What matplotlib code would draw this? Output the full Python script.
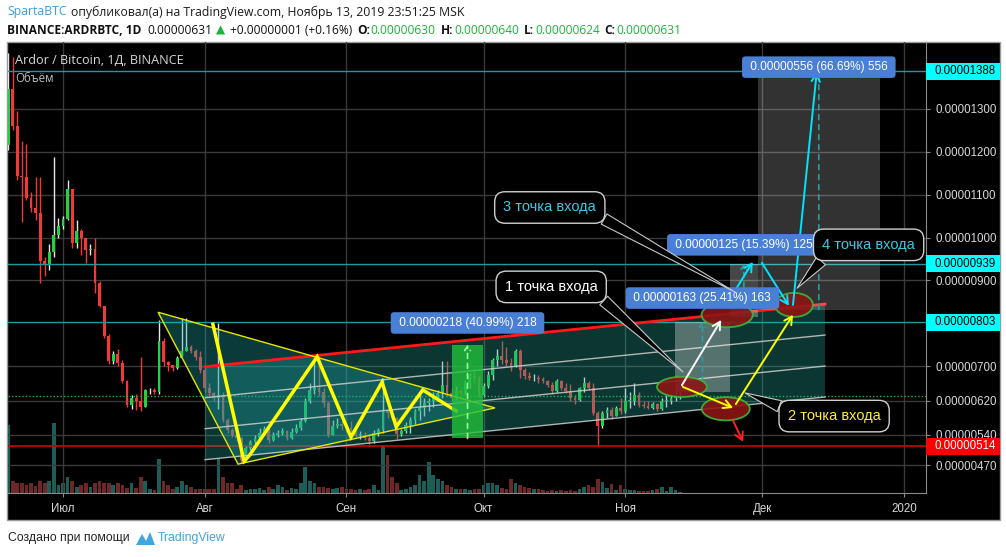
import matplotlib
matplotlib.use('Agg')
import matplotlib.pyplot as plt
from matplotlib.patches import Rectangle, Ellipse, Polygon

W, H = 1006, 557

# ARDR/BTC daily candles, prices in satoshi (1e-8 BTC); day 0 = 2019-06-19
first_open = 1215
closes = [1345, 1260, 1144, 1140, 1093, 1068, 1058, 946, 935, 967,
          1005, 1026, 1044, 1114, 988, 1016, 998, 972, 974, 895,
          840, 770, 712, 728, 707, 665, 609, 626, 620, 605,
          644, 644, 640, 758, 709, 702, 696, 719, 735, 744,
          735, 721, 691, 649, 637, 626, 633, 575, 551, 540,
          533, 482, 510, 523, 533, 544, 555, 528, 540, 545,
          549, 532, 548, 556, 572, 619, 644, 649, 640, 614,
          540, 561, 565, 561, 556, 551, 540, 540, 533, 526,
          545, 551, 595, 591, 579, 542, 549, 563, 575, 595,
          602, 614, 619, 626, 637, 656, 637, 626, 642, 637,
          661, 677, 672, 633, 654, 679, 714, 723, 714, 707,
          700, 735, 691, 677, 672, 672, 670, 665, 656, 642,
          665, 649, 642, 626, 621, 649, 661, 649, 591, 561,
          591, 598, 584, 602, 595, 619, 619, 633, 609, 607,
          603, 612, 600, 619, 620, 625, 630, 631]
highs = [1430, 1420, 1295, 1226, 1219, 1105, 1142, 1142, 955, 985,
         1188, 1045, 1050, 1133, 1112, 1040, 1020, 1000, 985, 1000,
         898, 840, 775, 735, 740, 715, 668, 632, 636, 721,
         646, 650, 650, 807, 765, 712, 702, 725, 812, 812,
         750, 740, 735, 700, 662, 640, 800, 640, 580, 556,
         546, 535, 515, 528, 540, 556, 562, 556, 548, 552,
         556, 552, 556, 565, 580, 625, 660, 719, 723, 650,
         618, 575, 580, 572, 568, 572, 558, 550, 548, 542,
         552, 556, 672, 600, 590, 582, 553, 570, 582, 600,
         640, 625, 625, 640, 645, 712, 712, 650, 655, 648,
         668, 685, 690, 678, 660, 690, 720, 740, 758, 745,
         720, 740, 740, 695, 686, 682, 680, 676, 668, 663,
         670, 668, 660, 658, 633, 652, 675, 665, 660, 595,
         596, 605, 605, 608, 625, 650, 640, 660, 640, 618,
         618, 616, 615, 625, 632, 635, 642, 640]
lows = [1205, 1250, 1135, 1037, 1088, 1060, 1040, 893, 910, 925,
        955, 1000, 1020, 1040, 975, 975, 960, 940, 960, 870,
        838, 765, 705, 705, 700, 660, 605, 600, 598, 595,
        605, 635, 636, 636, 700, 690, 690, 694, 725, 735,
        730, 715, 685, 640, 630, 620, 600, 570, 545, 535,
        525, 475, 480, 505, 518, 528, 540, 522, 525, 535,
        540, 528, 530, 545, 552, 570, 615, 635, 630, 605,
        535, 540, 556, 552, 548, 545, 535, 530, 528, 518,
        522, 538, 545, 580, 575, 530, 538, 545, 545, 565,
        575, 585, 595, 605, 618, 625, 630, 620, 622, 630,
        632, 650, 660, 628, 628, 650, 668, 700, 705, 700,
        690, 698, 672, 670, 668, 665, 662, 660, 652, 636,
        640, 645, 638, 620, 612, 618, 640, 645, 586, 516,
        556, 580, 578, 585, 590, 592, 602, 610, 605, 602,
        600, 600, 596, 598, 605, 612, 620, 624]
volumes = [68, 12, 10, 10, 8, 10, 7, 12, 10, 12,
           70, 8, 10, 16, 12, 6, 8, 10, 6, 10,
           12, 10, 10, 8, 10, 8, 5, 10, 5, 16,
           12, 4, 3, 34, 12, 8, 4, 6, 12, 8,
           6, 4, 4, 4, 4, 4, 34, 16, 10, 10,
           4, 8, 3, 4, 4, 5, 3, 6, 4, 8,
           6, 3, 5, 4, 10, 26, 12, 10, 6, 6,
           5, 4, 5, 6, 4, 4, 3, 4, 3, 4,
           8, 3, 48, 38, 16, 10, 3, 4, 6, 8,
           18, 12, 31, 18, 14, 12, 8, 6, 4, 4,
           4, 3, 4, 4, 8, 10, 10, 8, 5, 4,
           14, 10, 8, 6, 5, 4, 4, 3, 2, 3,
           2, 3, 2, 3, 2, 4, 6, 8, 6, 14,
           11, 5, 9, 3, 8, 4, 3, 3, 2, 2,
           2, 3, 4, 6, 2, 6, 3, 1]

month_days = [12, 43, 74, 104, 135, 165, 196]
month_labels = ['Июл', 'Авг', 'Сен', 'Окт', 'Ноя', 'Дек', '2020']
price_ticks = [1300, 1200, 1100, 1000, 900, 700, 620, 540, 470]

cyan_levels = [1388, 939, 803]
red_level = 514
last_price = 631

# drawings, (day, price)
channel_start = (43.1, 699)
channel_end = (178.7, 845)
channel_step = 72.2
triangle = [(32.8, 826), (50.3, 472), (106.5, 603)]
zigzag_days = [44.8, 51.6, 52.7, 67.6, 75.0, 81.8, 84.9, 90.7, 98.0]
zigzag_prices = [798, 479, 491, 722, 535, 663, 559, 645, 596]

range_days = [(97.1, 103.9), (145.9, 157.9), (157.9, 164.0), (164.0, 190.7)]
range_prices = [(532, 750), (641, 804), (814, 939), (832, 1388)]
range_labels = ['0.00000218 (40.99%) 218', '0.00000163 (25.41%) 163',
                '0.00000125 (15.39%) 125', '0.00000556 (66.69%) 556']
range_label_prices = [801, 859, 983, 1397]

entries = [(147.4, 652, 10.9, 47), (157.3, 820, 11.2, 58),
           (157.0, 601, 10.5, 54), (171.9, 843, 8.3, 56)]
arrows = [((147.4, 656), (156.0, 808), 'white'),
          ((147.6, 652), (158.6, 603), '#ffff00'),
          ((159.2, 612), (171.7, 820), '#ffff00'),
          ((158.6, 573), (160.8, 524), '#ff2020'),
          ((156.8, 838), (162.9, 943), '#00e5ff'),
          ((164.9, 941), (170.8, 841), '#00e5ff'),
          ((171.7, 843), (176.9, 1386), '#00e5ff')]
callout_texts = ['3 точка входа', '1 точка входа', '2 точка входа', '4 точка входа']
callout_pos = [(118.5, 1070), (118.8, 885), (180.7, 584), (178.1, 983)]
callout_target = [(159.0, 873), (147.6, 687), (161.2, 638), (172.6, 882)]

CYAN_TXT = '#3cc8e4'
callout_colors = [CYAN_TXT, 'white', '#ffeb3b', CYAN_TXT]
callout_rel = [(0.97, 0.1), (0.97, 0.1), (0.03, 0.9), (0.08, 0.05)]

opens = [first_open] + closes[:-1]
days = list(range(len(closes)))

fig = plt.figure(figsize=(W / 100, H / 100), dpi=100)
fig.patch.set_facecolor('white')


def fxy(px, py):
    return px / W, 1 - py / H


fig.add_artist(Rectangle(fxy(7, 520), 993 / W, 478 / H, transform=fig.transFigure,
                         facecolor='black', edgecolor='#9a9a9a', lw=1, zorder=-5))

pos = [8 / W, 1 - 493 / H, 918 / W, 451 / H]
xlim = (-0.03, 200.8)
ylim = (404.8, 1455.6)

# volume pane
axv = fig.add_axes(pos)
axv.set_axis_off()
axv.set_xlim(*xlim)
axv.set_ylim(0, 451)
vcol = ['#1c5e57' if c >= o else '#6e2727' for o, c in zip(opens, closes)]
axv.bar(days, volumes, width=0.8, color=vcol)

ax = fig.add_axes(pos)
ax.patch.set_visible(False)
ax.set_xlim(*xlim)
ax.set_ylim(*ylim)

# candles
up = [c >= o for o, c in zip(opens, closes)]
ax.vlines(days, lows, highs, colors=['#e8e8e8' if u else '#f03a3a' for u in up],
          lw=1, zorder=3)
ax.bar(days, [max(abs(c - o), 1.5) for o, c in zip(opens, closes)],
       bottom=[min(o, c) for o, c in zip(opens, closes)], width=0.62,
       color=['#22d33f' if u else '#f03a3a' for u in up], zorder=3.1)

# horizontal levels
for lv in cyan_levels:
    ax.axhline(lv, color='#1b9aa0', lw=1, zorder=4)
ax.axhline(red_level, color='#d00000', lw=1.2, zorder=4)
ax.axhline(last_price, color='#22b33a', lw=1, ls=(0, (1, 1.5)), zorder=4)

# parallel channel
(x0, y0), (x1, y1) = channel_start, channel_end
bottom_off = 3 * channel_step
ax.add_patch(Polygon([(x0, y0), (x1, y1), (x1, y1 - bottom_off), (x0, y0 - bottom_off)],
                     closed=True, facecolor='#26a69a', alpha=0.33, edgecolor='none', zorder=5))
for k in range(1, 4):
    ax.plot([x0, x1], [y0 - k * channel_step, y1 - k * channel_step],
            color='#cfcfcf', lw=1, alpha=0.85, zorder=5.2)
ax.plot([x0, x1], [y0, y1], color='#ff1a1a', lw=2, zorder=5.3)

# triangle
ax.add_patch(Polygon(triangle, closed=True, facecolor='#1fa8a8', alpha=0.35,
                     edgecolor='none', zorder=5.1))
ax.add_patch(Polygon(triangle, closed=True, facecolor='none', edgecolor='#e6e600',
                     lw=1, zorder=5.4))
ax.plot(zigzag_days, zigzag_prices, color='#ffff00', lw=2.5, zorder=6,
        solid_joinstyle='miter')

# price range boxes
range_face = [('#22c03c', 0.8), ('white', 0.3), ('white', 0.28), ('white', 0.2)]
range_dash = ['#9cff9c', '#2aa0a8', '#2aa0a8', '#2a9aa0']
for (da, db), (pa, pb), (fc, al), dc, lab, lp in zip(range_days, range_prices, range_face,
                                                     range_dash, range_labels, range_label_prices):
    ax.add_patch(Rectangle((da, pa), db - da, pb - pa, facecolor=fc, alpha=al,
                           edgecolor='none', zorder=6.5))
    xm = (da + db) / 2
    ax.annotate('', xy=(xm, pb), xytext=(xm, pa), zorder=6.6,
                arrowprops=dict(arrowstyle='->,head_length=0.3,head_width=0.2',
                                color=dc, lw=1.2, ls=(0, (3, 3)), shrinkA=0, shrinkB=0))
    ax.text(xm, lp, ' ' + lab + ' ', ha='center', va='center', color='white',
            fontsize=8.6, family='Liberation Sans', zorder=9,
            bbox=dict(boxstyle='round,pad=0.4,rounding_size=0.3', fc='#4a7fd6', ec='none'))

# entry ellipses
for ex, ey, ew, eh in entries:
    ax.add_patch(Ellipse((ex, ey), ew, eh, facecolor='#8b1515', alpha=0.9,
                         edgecolor='#3cb83c', lw=1.3, zorder=7))

for (sx, sy), (tx, ty), col in arrows:
    ax.annotate('', xy=(tx, ty), xytext=(sx, sy), zorder=8,
                arrowprops=dict(arrowstyle='->,head_length=0.55,head_width=0.3',
                                color=col, lw=1.4, shrinkA=0, shrinkB=0))

# callouts
for txt, (cx, cy), (tx, ty), col, rel in zip(callout_texts, callout_pos, callout_target,
                                             callout_colors, callout_rel):
    ha = 'left' if txt.startswith('4') else 'center'
    ax.annotate(txt, xy=(tx, ty), xytext=(cx, cy), ha=ha, va='center', color=col,
                fontsize=10.5, family='Liberation Sans', zorder=10, annotation_clip=False,
                bbox=dict(boxstyle='round,pad=0.6,rounding_size=0.7', fc='black',
                          ec='#d0d0d0', lw=1),
                arrowprops=dict(arrowstyle='wedge,tail_width=0.8,shrink_factor=0.5',
                                fc='black', ec='#c8c8c8', lw=0.8, relpos=rel,
                                shrinkA=0, shrinkB=0))

# axes styling
ax.set_yticks(price_ticks)
ax.set_yticklabels([f'{v / 1e8:.8f}' for v in price_ticks])
ax.set_xticks(month_days)
ax.set_xticklabels(month_labels)
ax.yaxis.tick_right()
ax.tick_params(axis='y', colors='#8a8a8a', labelcolor='#d8d8d8', labelsize=8.3,
               length=3, pad=3.5)
ax.tick_params(axis='x', colors='#8a8a8a', labelcolor='#d8d8d8', labelsize=8.3,
               length=3, pad=4)
for lab in ax.get_xticklabels() + ax.get_yticklabels():
    lab.set_family('Liberation Sans')
ax.grid(True, color='#3a3a3a', lw=1, zorder=1)
ax.set_axisbelow(True)
for side in ['top', 'left']:
    ax.spines[side].set_visible(False)
ax.spines['right'].set_color('#8a8a8a')
ax.spines['bottom'].set_color('#8a8a8a')

# highlighted price labels on the axis
ytr = ax.get_yaxis_transform()
half = 8.5 / 0.4292
for lv, fc, tc in [(v, '#00ffff', 'black') for v in cyan_levels] + [(red_level, '#ff0000', 'white')]:
    ax.add_patch(Rectangle((1.0, lv - half), 0.0806, 2 * half, transform=ytr,
                           facecolor=fc, edgecolor='none', clip_on=False, zorder=11))
    ax.text(1.0098, lv, f'{lv / 1e8:.8f}', transform=ytr, ha='left', va='center',
            color=tc, fontsize=8.3, family='Liberation Sans', zorder=12, clip_on=False)

# texts on the chart
fig.text(*fxy(15, 60), 'Ardor / Bitcoin, 1Д, BINANCE', color='#d9d9d9', fontsize=9.1,
         family=['Open Sans', 'DejaVu Sans'], va='center')
fig.text(*fxy(15, 78), 'Объём', color='#bdbdbd', fontsize=8.3,
         family=['Open Sans', 'DejaVu Sans'], va='center')

# header
renderer = fig.canvas.get_renderer()


def text_run(x, y, parts, size):
    for s, color, weight, gap in parts:
        t = fig.text(*fxy(x, y), s, color=color, fontsize=size, fontweight=weight,
                     family=['Open Sans', 'DejaVu Sans'], va='center', ha='left')
        x = t.get_window_extent(renderer).x1 + gap


GREEN = '#1db33a'
text_run(7, 12, [('SpartaBTC', '#3a9fe0', 'normal', 4),
                 ('опубликовал(а) на TradingView.com, Ноябрь 13, 2019 23:51:25 MSK',
                  '#1a1a1a', 'normal', 0)], 8.8)
text_run(7, 30, [('BINANCE:ARDRBTC, 1D', '#111111', 'bold', 6),
                 ('0.00000631', '#111111', 'normal', 4),
                 ('▲', GREEN, 'normal', 4),
                 ('+0.00000001 (+0.16%)', '#111111', 'normal', 5),
                 ('O:', '#111111', 'bold', 1), ('0.00000630', GREEN, 'normal', 5),
                 ('H:', '#111111', 'bold', 1), ('0.00000640', GREEN, 'normal', 5),
                 ('L:', '#111111', 'bold', 1), ('0.00000624', GREEN, 'normal', 5),
                 ('C:', '#111111', 'bold', 1), ('0.00000631', GREEN, 'normal', 0)], 8.6)

# footer
fig.text(*fxy(8, 538), 'Создано при помощи', color='#222222', fontsize=8.8,
         family='Liberation Sans', va='center')
logo = [(136, 545), (142, 534), (146, 541), (150, 532), (155, 545)]
fig.add_artist(Polygon([fxy(px, py) for px, py in logo], closed=True,
                       transform=fig.transFigure, facecolor='#3ea6e0', edgecolor='none'))
fig.text(*fxy(158, 538), 'TradingView', color='#3ea6e0', fontsize=8.8,
         family='Liberation Sans', va='center')

fig.savefig('out.png', dpi=100, facecolor='white')
